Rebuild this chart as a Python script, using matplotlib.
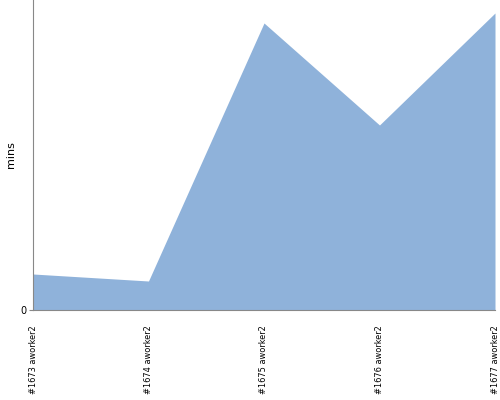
import matplotlib
matplotlib.use('Agg')
import matplotlib.pyplot as plt

builds = ['#1673 aworker2', '#1674 aworker2', '#1675 aworker2', '#1676 aworker2', '#1677 aworker2']
mins = [3.6, 2.9, 28.7, 18.5, 29.7]

fig = plt.figure(figsize=(5, 4), dpi=100)
ax = fig.add_axes([0.066, 0.225, 0.924, 0.775])

x = list(range(len(builds)))
ax.fill_between(x, mins, 0, color='#8fb2da', linewidth=0)
ax.set_xlim(0, len(builds) - 1)
ax.set_ylim(0, 31)

ax.set_yticks([0])
ax.set_yticklabels(['0'], fontsize=7)
ax.set_xticks(x)
ax.set_xticklabels(builds, rotation=90, fontsize=6.6, fontstretch='condensed')
ax.tick_params(axis='x', length=0, pad=11)
ax.tick_params(axis='y', length=3, color='#888888', pad=2)
ax.set_ylabel('mins', fontsize=8, labelpad=3)

for s in ['top', 'right']:
    ax.spines[s].set_visible(False)
for s in ['left', 'bottom']:
    ax.spines[s].set_color('#888888')
    ax.spines[s].set_linewidth(0.8)

fig.savefig('out.png', dpi=100)
